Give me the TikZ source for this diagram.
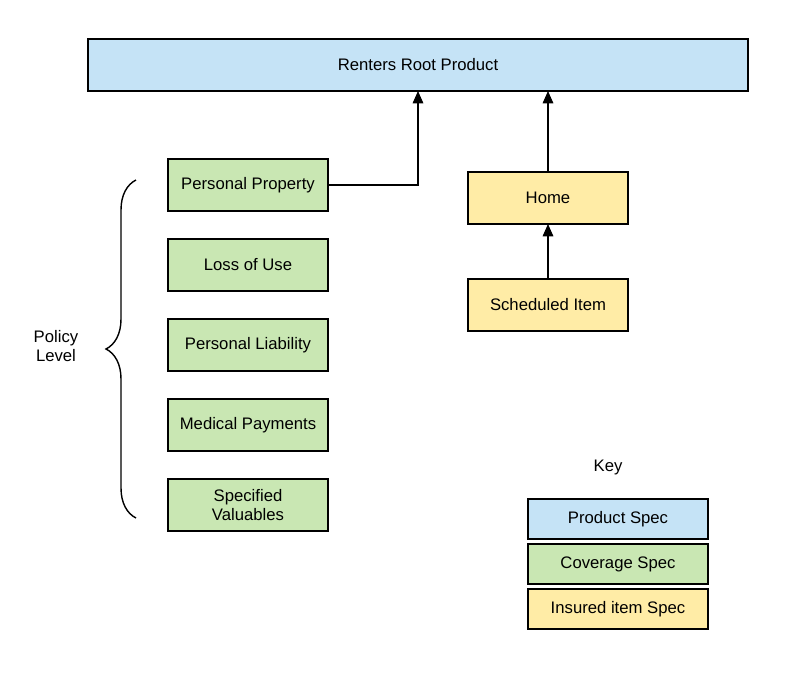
\documentclass[tikz,border=0pt]{standalone}
\usepackage{fontspec}
\setmainfont{Liberation Sans}
\usetikzlibrary{positioning,arrows.meta,decorations.pathreplacing}
\definecolor{prodblue}{HTML}{C5E3F6}
\definecolor{covgreen}{HTML}{C9E7B3}
\definecolor{itemyellow}{HTML}{FFECA6}
\tikzset{
    spec/.style = {
        draw, thick, align=center, outer sep=0pt,
        font=\fontsize{9.5}{11}\selectfont,
        },
    product/.style = {
        spec, fill=prodblue, minimum width=13.2cm, minimum height=1.04cm,
        },
    coverage/.style = {
        spec, fill=covgreen, minimum width=3.2cm, minimum height=1.04cm,
        },
    item/.style = {
        spec, fill=itemyellow, minimum width=3.2cm, minimum height=1.04cm,
        },
    key/.style = {
        minimum width=3.6cm, minimum height=0.8cm,
        },
    link/.style = {
        thick, -{Triangle[length=7pt, width=6pt]},
        },
}
\begin{document}
\begin{tikzpicture}[x=0.02cm, y=-0.02cm, node distance=0.56cm]
\useasboundingbox (0,0) rectangle (785,680);

\node [product] (root) at (418,65) {Renters Root Product};

\node [coverage] (prop) at (248,185) {Personal Property};
\node [coverage, below=of prop] (loss) {Loss of Use};
\node [coverage, below=of loss] (liab) {Personal Liability};
\node [coverage, below=of liab] (med) {Medical Payments};
\node [coverage, below=of med] (valu) {Specified\\Valuables};

\node [item] (home) at (548,198) {Home};
\node [item] (sched) at (548,305) {Scheduled Item};

\draw [link] (prop.east) -| (root.south -| 418,0);
\draw [link] (home.north) -- (root.south -| home.north);
\draw [link] (sched.north) -- (home.south);

% brace for the policy level
\coordinate (bb) at (136,518);
\coordinate (bt) at (136,180);
\draw [thick, decorate, decoration={brace, amplitude=0.6cm}] (bb) -- (bt);
\node [font=\fontsize{9.5}{11}\selectfont, align=center] (policy) at (56,346) {Policy\\Level};

% key
\node [font=\fontsize{9.5}{11}\selectfont] (keytitle) at (608,467) {Key};
\node [product, key] (kprod) at (618,519) {Product Spec};
\node [coverage, key] (kcov) at (618,564) {Coverage Spec};
\node [item, key] (kitem) at (618,609) {Insured item Spec};
\end{tikzpicture}
\end{document}
